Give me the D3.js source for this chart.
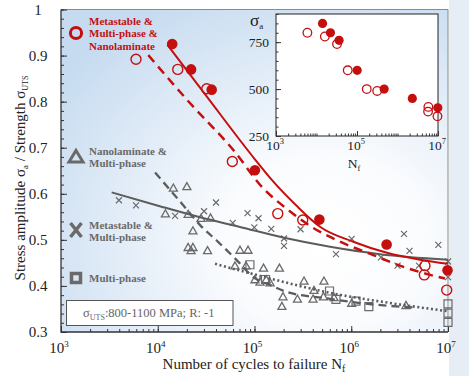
<!DOCTYPE html>
<html><head><meta charset="utf-8">
<script src="https://cdn.jsdelivr.net/npm/d3@7"></script>
<style>body{margin:0;background:#fff}svg{display:block}text{font-family:"Liberation Serif","Times New Roman",serif}</style>
</head><body><svg id="c" width="469" height="376"></svg>
<script>
// ---------- data ----------
const redFilledN   = [14100, 22100, 36100, 101000, 468000, 2320000, 9890000];
const redFilledVal = [0.925, 0.870, 0.826, 0.651, 0.544, 0.490, 0.434];
const redFilledSig = [850, 800, 760, 600, 500, 450, 400];
const redOpenN     = [5960, 16100, 32100, 59000, 174000, 315000, 5780000, 5690000, 9700000];
const redOpenVal   = [0.892, 0.870, 0.828, 0.670, 0.557, 0.543, 0.444, 0.424, 0.391];
const redOpenSig   = [800, 780, 740, 600, 500, 490, 405, 380, 355];

const crossN   = [3970, 5960, 15100, 30100, 40000, 84700, 110000, 59600, 99500, 149000, 299000, 202000, 202000, 695000, 1010000, 2030000, 3510000, 4000000, 7940000, 3010000, 5010000, 10000000, 10000000, 10000000];
const crossVal = [0.586, 0.575, 0.552, 0.562, 0.581, 0.558, 0.547, 0.537, 0.527, 0.524, 0.523, 0.503, 0.487, 0.469, 0.502, 0.462, 0.513, 0.476, 0.489, 0.444, 0.444, 0.453, 0.434, 0.419];

const triN   = [14500, 20000, 12000, 20600, 28000, 35100, 23100, 20600, 23100, 22100, 32700, 70800, 85700, 62800, 81700, 124000, 181000, 101000, 114000, 132000, 145000, 197000, 192000, 278000, 325000, 412000, 522000, 403000, 516000, 664000, 1010000, 3680000];
const triVal = [0.612, 0.615, 0.556, 0.555, 0.546, 0.547, 0.519, 0.483, 0.483, 0.476, 0.476, 0.477, 0.477, 0.443, 0.443, 0.438, 0.438, 0.413, 0.408, 0.413, 0.406, 0.376, 0.355, 0.371, 0.410, 0.390, 0.410, 0.371, 0.376, 0.374, 0.362, 0.357];

const sqN   = [89700, 130000, 596000, 695000, 1120000, 1520000, 10000000, 10000000, 10000000];
const sqVal = [0.446, 0.414, 0.389, 0.371, 0.367, 0.355, 0.361, 0.341, 0.321];

// fitted trend lines
const redSolidN   = [12600, 31600, 100000, 151000, 269000, 479000, 1050000, 2340000, 5130000, 10000000];
const redSolidVal = [0.923, 0.813, 0.676, 0.630, 0.575, 0.528, 0.496, 0.472, 0.457, 0.448];
const redDashN    = [7980, 21500, 60400, 123000, 223000, 390000, 766000, 1690000, 3190000, 6520000, 9310000];
const redDashVal  = [0.901, 0.797, 0.695, 0.612, 0.565, 0.528, 0.496, 0.467, 0.444, 0.424, 0.416];
const graySolidN   = [3340, 10500, 27400, 70800, 197000, 603000, 1980000, 10000000];
const graySolidVal = [0.603, 0.573, 0.549, 0.528, 0.505, 0.485, 0.469, 0.457];
const grayDashN   = [9380, 17700, 27400, 42300, 65500, 97200, 145000, 215000, 557000, 1330000, 4740000];
const grayDashVal = [0.646, 0.579, 0.532, 0.495, 0.456, 0.419, 0.402, 0.387, 0.373, 0.362, 0.353];
const grayDotN   = [39100, 129000, 603000, 2510000, 10000000];
const grayDotVal = [0.448, 0.419, 0.385, 0.363, 0.345];

const yTickValues = [0.3, 0.4, 0.5, 0.6, 0.7, 0.8, 0.9, 1.0];
const yTickLabels = ["0.3", "0.4", "0.5", "0.6", "0.7", "0.8", "0.9", "1"];
const xTickValues = [1e3, 1e4, 1e5, 1e6, 1e7];
const xTickExps   = ["3", "4", "5", "6", "7"];
const inYTickValues = [250, 500, 750];
const inXTickValues = [1e3, 1e5, 1e7];
const inXTickExps   = ["3", "5", "7"];

const legendRed  = ["Metastable &", "Multi-phase &", "Nanolaminate"];
const legendTri  = ["Nanolaminate &", "Multi-phase"];
const legendX    = ["Metastable &", "Multi-phase"];
const legendSq   = ["Multi-phase"];

// ---------- drawing ----------
const RED = "#c50f0f", GRAY = "#6a6a6a", LGRAY = "#5c5c5c";
const svg = d3.select("#c");
const L = 61, R = 448, T = 9.5, B = 332;
const x = d3.scaleLog().domain([1e3, 1e7]).range([L, R]);
const y = d3.scaleLinear().domain([0.3, 1]).range([B, T]);

const defs = svg.append("defs");
const rg = defs.append("radialGradient").attr("id", "bg").attr("cx", "0.68").attr("cy", "0.72").attr("r", "0.85");
rg.append("stop").attr("offset", "0").attr("stop-color", "#ffffff");
rg.append("stop").attr("offset", "0.3").attr("stop-color", "#fbfcfe");
rg.append("stop").attr("offset", "1").attr("stop-color", "#c6dbf0");

svg.append("rect").attr("x", R + 1).attr("y", 0).attr("width", 469 - R - 1).attr("height", 376).attr("fill", "#e6edf4");
svg.append("rect").attr("x", L).attr("y", T).attr("width", R - L).attr("height", B - T).attr("fill", "url(#bg)");

// frame top/right
svg.append("path").attr("d", `M${L},${T}H${R}V${B}`).attr("fill", "none").attr("stroke", "#8a8a8a").attr("stroke-width", 1);

// axes ticks
const minorX = x.ticks();
function tickAxis(g, axis) { g.call(axis); g.select(".domain").remove(); g.selectAll("line").attr("stroke", "#333"); }
svg.append("g").attr("transform", `translate(0,${B})`).call(g => tickAxis(g, d3.axisBottom(x).tickValues(minorX).tickSize(-3).tickFormat("")));
svg.append("g").attr("transform", `translate(0,${B})`).call(g => tickAxis(g, d3.axisBottom(x).tickValues(xTickValues).tickSize(-6).tickFormat("")));
const minorY = d3.range(15, 51).map(i => i / 50);
svg.append("g").attr("transform", `translate(${L},0)`).call(g => tickAxis(g, d3.axisLeft(y).tickValues(minorY).tickSize(-3).tickFormat("")));
svg.append("g").attr("transform", `translate(${L},0)`).call(g => tickAxis(g, d3.axisLeft(y).tickValues(yTickValues).tickSize(-6).tickFormat("")));
svg.append("path").attr("d", `M${L},${T}V${B}H${R}`).attr("fill", "none").attr("stroke", "#333").attr("stroke-width", 1.3);

// tick labels
svg.append("g").selectAll("text").data(yTickValues).join("text")
  .attr("x", 38).attr("y", d => y(d) + 5).attr("text-anchor", "middle").attr("font-size", 15).attr("fill", "#222")
  .text((d, i) => yTickLabels[i]);
const xl = svg.append("g").selectAll("text").data(xTickValues).join("text")
  .attr("x", d => x(d) - 2).attr("y", 353).attr("text-anchor", "middle").attr("font-size", 15).attr("fill", "#222");
xl.append("tspan").text("10");
xl.append("tspan").attr("dy", -6).attr("font-size", 9).text((d, i) => xTickExps[i]);

// axis titles
const xt = svg.append("text").attr("x", 254).attr("y", 369).attr("text-anchor", "middle").attr("font-size", 15).attr("fill", "#222");
xt.append("tspan").text("Number of cycles to failure N");
xt.append("tspan").attr("dy", 3).attr("font-size", 10).text("f");
const yt = svg.append("text").attr("transform", "translate(25,178) rotate(-90)").attr("text-anchor", "middle").attr("font-size", 15).attr("fill", "#222");
yt.append("tspan").text("Stress amplitude σ");
yt.append("tspan").attr("dy", 3).attr("font-size", 9).text("a");
yt.append("tspan").attr("dy", -3).text(" / Strength σ");
yt.append("tspan").attr("dy", 3).attr("font-size", 8).text("UTS");

// plot clip
defs.append("clipPath").attr("id", "clip").append("rect").attr("x", L).attr("y", T).attr("width", R - L).attr("height", B - T);
const plot = svg.append("g");

// gray markers
const pts = (ns, vs) => ns.map((n, i) => [n, vs[i]]);
plot.append("g").selectAll("path").data(pts(crossN, crossVal)).join("path")
  .attr("transform", d => `translate(${x(d[0])},${y(d[1])})`).attr("d", "M-3,-3L3,3M-3,3L3,-3")
  .attr("stroke", GRAY).attr("stroke-width", 1.2).attr("fill", "none");
plot.append("g").selectAll("path").data(pts(triN, triVal)).join("path")
  .attr("transform", d => `translate(${x(d[0])},${y(d[1])})`).attr("d", "M0,-4.3L4,2.8L-4,2.8Z")
  .attr("stroke", GRAY).attr("stroke-width", 1.3).attr("fill", "none");
plot.append("g").selectAll("path").data(pts(sqN, sqVal)).join("path")
  .attr("transform", d => `translate(${x(d[0])},${y(d[1])})`).attr("d", "M-4,-4h8v8h-8Z")
  .attr("stroke", GRAY).attr("stroke-width", 1.2).attr("fill", "none");

// lines
const line = d3.line().x(d => x(d[0])).y(d => y(d[1])).curve(d3.curveMonotoneX);
const lg = plot.append("g").attr("clip-path", "url(#clip)");
lg.append("path").attr("d", line(pts(grayDashN, grayDashVal))).attr("fill", "none").attr("stroke", LGRAY).attr("stroke-width", 2.3).attr("stroke-dasharray", "8,5");
lg.append("path").attr("d", line(pts(grayDotN, grayDotVal))).attr("fill", "none").attr("stroke", LGRAY).attr("stroke-width", 2.6).attr("stroke-dasharray", "2,2.6");
lg.append("path").attr("d", line(pts(graySolidN, graySolidVal))).attr("fill", "none").attr("stroke", LGRAY).attr("stroke-width", 2);
lg.append("path").attr("d", line(pts(redDashN, redDashVal))).attr("fill", "none").attr("stroke", RED).attr("stroke-width", 2.5).attr("stroke-dasharray", "9,6");
lg.append("path").attr("d", line(pts(redSolidN, redSolidVal))).attr("fill", "none").attr("stroke", RED).attr("stroke-width", 2);

// red markers
plot.append("g").selectAll("circle").data(pts(redOpenN, redOpenVal)).join("circle")
  .attr("cx", d => x(d[0])).attr("cy", d => y(d[1])).attr("r", 5)
  .attr("fill", "none").attr("stroke", RED).attr("stroke-width", 1.4);
plot.append("g").selectAll("circle").data(pts(redFilledN, redFilledVal)).join("circle")
  .attr("cx", d => x(d[0])).attr("cy", d => y(d[1])).attr("r", 5.3).attr("fill", RED);

// legend
function legendText(lines, x0, y0, color) {
  svg.append("g").selectAll("text").data(lines).join("text")
    .attr("x", x0).attr("y", (d, i) => y0 + i * 12.3).attr("font-size", 11).attr("font-weight", "bold").attr("fill", color).text(d => d);
}
svg.append("circle").attr("cx", 76).attr("cy", 33).attr("r", 5.6).attr("fill", "none").attr("stroke", RED).attr("stroke-width", 3);
legendText(legendRed, 89, 25, RED);
svg.append("path").attr("transform", "translate(76,157)").attr("d", "M0,-6.5L7,5L-7,5Z").attr("fill", "none").attr("stroke", GRAY).attr("stroke-width", 3).attr("stroke-linejoin", "miter");
legendText(legendTri, 89, 155, GRAY);
svg.append("path").attr("transform", "translate(76,230)").attr("d", "M-5.5,-7L5.5,7M-5.5,7L5.5,-7").attr("stroke", GRAY).attr("stroke-width", 3.5).attr("fill", "none");
legendText(legendX, 89, 228.5, GRAY);
svg.append("rect").attr("x", 71.5).attr("y", 273.5).attr("width", 9).attr("height", 9).attr("fill", "none").attr("stroke", GRAY).attr("stroke-width", 3.5);
legendText(legendSq, 89, 282, GRAY);

// info box
svg.append("rect").attr("x", 66.5).attr("y", 300.5).attr("width", 166.5).attr("height", 25).attr("fill", "#fff").attr("stroke", "#555").attr("stroke-width", 1);
const ib = svg.append("text").attr("x", 83).attr("y", 317).attr("font-size", 12.5).attr("fill", "#666");
ib.append("tspan").text("σ");
ib.append("tspan").attr("dy", 3).attr("font-size", 8).text("UTS");
ib.append("tspan").attr("dy", -3).text(":800-1100 MPa; R: -1");

// ---------- inset ----------
const iL = 276, iR = 438, iT = 14, iB = 136;
const xi = d3.scaleLog().domain([1e3, 1e7]).range([iL, iR]);
const yi = d3.scaleLinear().domain([250, 900]).range([iB, iT]);
svg.append("rect").attr("x", iL).attr("y", iT).attr("width", iR - iL).attr("height", iB - iT).attr("fill", "#fff").attr("stroke", "#222").attr("stroke-width", 1);
svg.append("g").attr("transform", `translate(0,${iB})`).call(g => tickAxis(g, d3.axisBottom(xi).tickValues(xi.ticks()).tickSize(-2.5).tickFormat("")));
svg.append("g").attr("transform", `translate(0,${iB})`).call(g => tickAxis(g, d3.axisBottom(xi).tickValues(inXTickValues).tickSize(-5).tickFormat("")));
svg.append("g").attr("transform", `translate(${iL},0)`).call(g => tickAxis(g, d3.axisLeft(yi).tickValues(d3.range(5, 19).map(i => i * 50)).tickSize(-2.5).tickFormat("")));
svg.append("g").attr("transform", `translate(${iL},0)`).call(g => tickAxis(g, d3.axisLeft(yi).tickValues(inYTickValues).tickSize(-5).tickFormat("")));
svg.append("g").selectAll("text").data(inYTickValues).join("text")
  .attr("x", 269).attr("y", d => yi(d) + 4.5).attr("text-anchor", "end").attr("font-size", 13.5).attr("fill", "#222").text(d => d);
const ixl = svg.append("g").selectAll("text").data(inXTickValues).join("text")
  .attr("x", d => xi(d) - 1).attr("y", 150).attr("text-anchor", "middle").attr("font-size", 13.5).attr("fill", "#222");
ixl.append("tspan").text("10");
ixl.append("tspan").attr("dy", -6).attr("font-size", 8.5).text((d, i) => inXTickExps[i]);
const nf = svg.append("text").attr("x", 354).attr("y", 168).attr("text-anchor", "middle").attr("font-size", 13.5).attr("fill", "#222");
nf.append("tspan").text("N");
nf.append("tspan").attr("dy", 3).attr("font-size", 8.5).text("f");
const sa = svg.append("text").attr("x", 250).attr("y", 26).attr("font-size", 17).attr("fill", "#222");
sa.append("tspan").text("σ");
sa.append("tspan").attr("dy", 3).attr("font-size", 9).text("a");

svg.append("g").selectAll("circle").data(pts(redOpenN, redOpenSig)).join("circle")
  .attr("cx", d => xi(d[0])).attr("cy", d => yi(d[1])).attr("r", 4.3)
  .attr("fill", "none").attr("stroke", RED).attr("stroke-width", 1.3);
svg.append("g").selectAll("circle").data(pts(redFilledN, redFilledSig)).join("circle")
  .attr("cx", d => xi(d[0])).attr("cy", d => yi(d[1])).attr("r", 4.6).attr("fill", RED);
</script></body></html>
